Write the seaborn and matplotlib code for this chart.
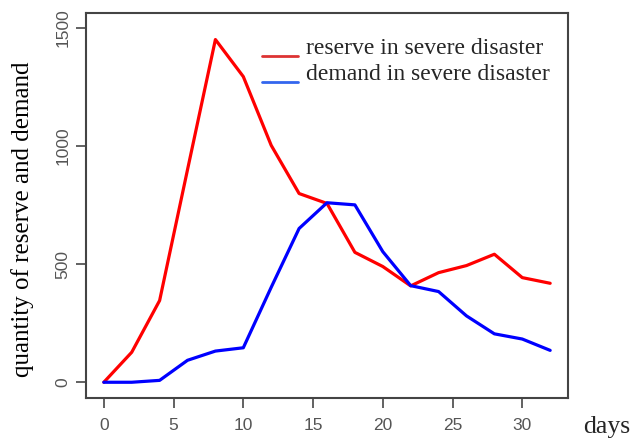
import numpy as np
import pandas as pd
import matplotlib
matplotlib.use("Agg")
import matplotlib.pyplot as plt
import matplotlib.transforms as mtransforms
import seaborn as sns

days = [0, 2, 4, 6, 8, 10, 12, 14, 16, 18, 20, 22, 24, 26, 28, 30, 32]
reserve = [0, 127, 346, 900, 1451, 1294, 1003, 799, 757, 550, 490, 408, 464, 494, 542, 443, 419]
demand = [0, 0, 8, 93, 132, 146, 402, 651, 760, 751, 553, 409, 384, 281, 205, 183, 135]
series_names = ["reserve in severe disaster", "demand in severe disaster"]
x_ticks = [0, 5, 10, 15, 20, 25, 30]
y_ticks = [0, 500, 1000, 1500]

df = pd.DataFrame({
    "days": days * 2,
    "value": reserve + demand,
    "series": [series_names[0]] * len(days) + [series_names[1]] * len(days),
})

sns.set_style("white")
plt.rcParams["font.family"] = ["Liberation Serif", "DejaVu Serif"]

fig = plt.figure(figsize=(6.43, 4.38), dpi=100)
ax = fig.add_axes([0.1337, 0.0906, 0.7497, 0.8790])

sns.lineplot(data=df, x="days", y="value", hue="series",
             palette={series_names[0]: "#ff0000", series_names[1]: "#0000ff"},
             linewidth=2.3, ax=ax, legend=True)

ax.set_xlim(-1.28, 33.28)
ax.set_ylim(-68, 1562)
ax.set_xticks(x_ticks)
ax.set_yticks(y_ticks)

for s in ax.spines.values():
    s.set_color("#444444")
    s.set_linewidth(1.5)
    s.set_visible(True)

ax.tick_params(axis="both", which="major", bottom=True, left=True, direction="out",
               length=7, width=1.3, color="#555555",
               labelsize=12.5, labelcolor="#555555")
ax.tick_params(axis="x", pad=7)
ax.tick_params(axis="y", pad=4)
for lab in ax.get_xticklabels() + ax.get_yticklabels():
    lab.set_family(["Liberation Sans", "DejaVu Sans"])
for lab in ax.get_yticklabels():
    lab.set_rotation(90)
    lab.set_va("center")

ax.set_xlabel("")
ax.set_ylabel("quantity of reserve and demand", fontsize=18, color="black")
ax.yaxis.set_label_coords(-0.108, 0.466)
fig.text(0.98, 0.011, "days", fontsize=18.5, ha="right", va="baseline")

leg = ax.legend(loc="upper left", bbox_to_anchor=(0.366, 0.937), frameon=False,
                fontsize=17, handlelength=1.5, handletextpad=0.35,
                borderpad=0, borderaxespad=0, labelspacing=0.2)
handle_colors = ["#dd3333", "#3366ee"]
shift = mtransforms.ScaledTranslation(0, -0.10, fig.dpi_scale_trans)
for lh, c in zip(leg.get_lines(), handle_colors):
    lh.set_linewidth(2)
    lh.set_color(c)
    lh.set_transform(lh.get_transform() + shift)

fig.savefig("out.png", dpi=100)
